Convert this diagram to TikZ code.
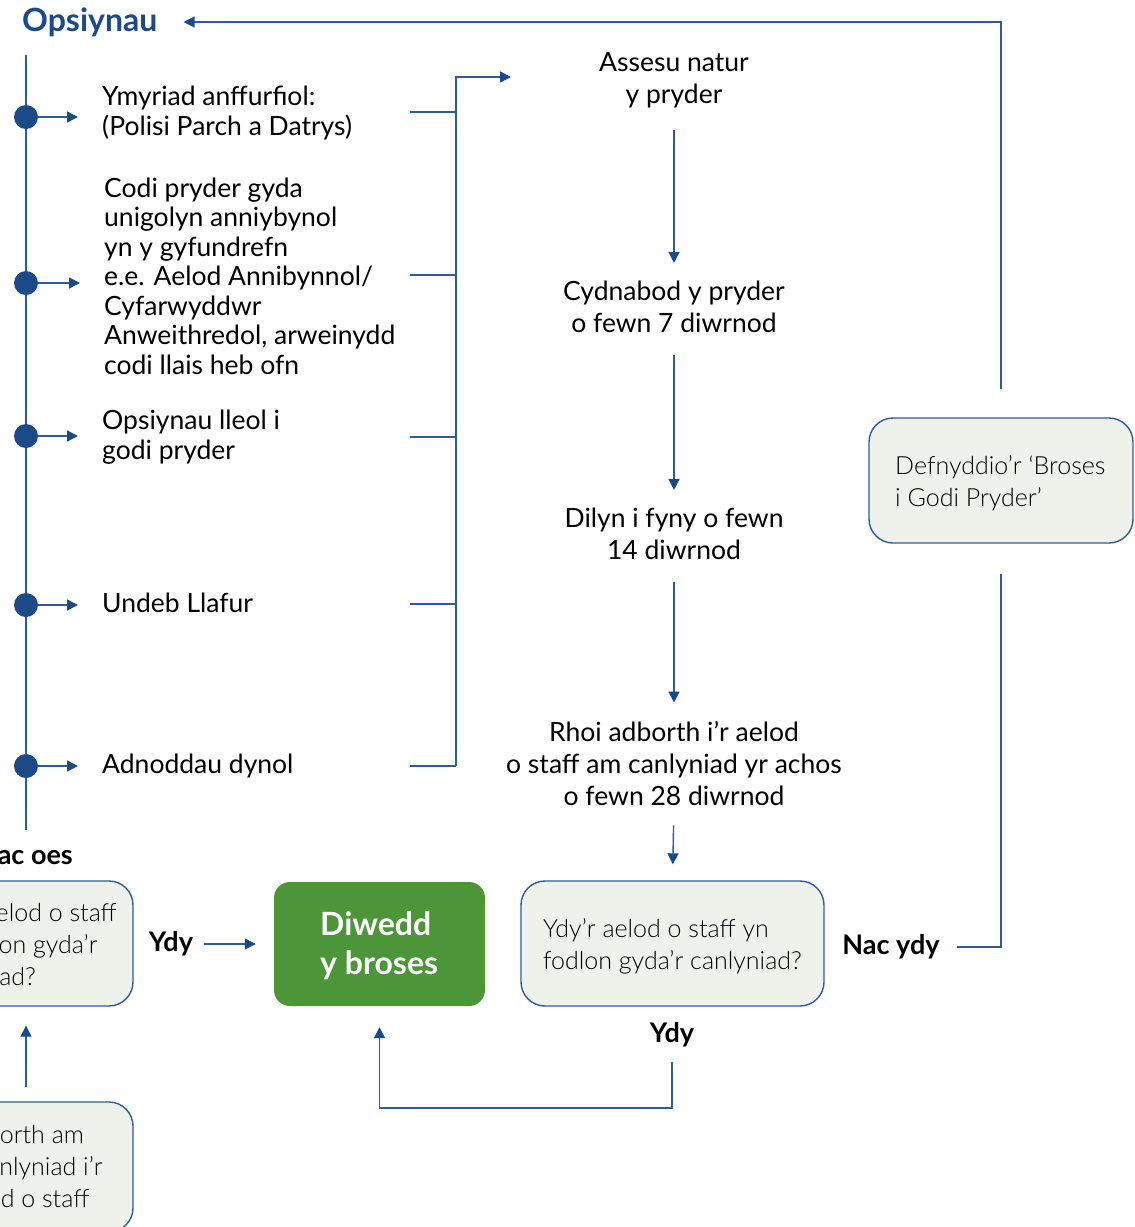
\documentclass[tikz,border=0pt]{standalone}
\usepackage{fontspec}
\setmainfont{Lato}
\IfFontExistsTF{Lato Light}{\newfontfamily\lightf{Lato Light}}{\newfontfamily\lightf{Lato}}
\usetikzlibrary{arrows.meta}
\definecolor{navy}{HTML}{1B4A87}
\definecolor{lineblue}{HTML}{2E5C99}
\definecolor{boxfill}{HTML}{EFF2EA}
\definecolor{okgreen}{HTML}{4C9639}
\tikzset{
  conn/.style={draw=lineblue, line width=1.4pt},
  arr/.style={conn, -{Triangle[length=11pt,width=11pt,color=navy]}},
  tx/.style={inner sep=0pt, font=\fontsize{26.5}{29.5}\selectfont, align=left},
  ctx/.style={inner sep=0pt, font=\fontsize{26.5}{32}\selectfont, align=center},
  rbox/.style={draw=lineblue, line width=1.4pt, fill=boxfill, rounded corners=24pt, inner sep=0pt},
  btx/.style={inner sep=0pt, font=\lightf\fontsize{25}{32}\selectfont, align=left},
  lab/.style={inner sep=0pt, font=\bfseries\fontsize{27}{29}\selectfont},
  dot/.style={circle, fill=navy, minimum size=24pt, inner sep=0pt},
}
\begin{document}
\begin{tikzpicture}[x=1pt,y=-1pt]
\useasboundingbox (0,0) rectangle (1135,1227);
\clip (0,0) rectangle (1135,1227);
\fill[white] (0,0) rectangle (1135,1227);

% title
\node[inner sep=0pt, anchor=west, text=navy, font=\bfseries\fontsize{32}{36}\selectfont] (title) at (22,22) {Opsiynau};

% spine
\coordinate (spTop) at (26,55);
\coordinate (spBot) at (26,830);
\draw[conn] (spTop) -- (spBot);

% left option texts
\node[tx, anchor=west] (t1) at (102,113) {Ymyriad anffurfiol:\\(Polisi Parch a Datrys)};
\node[tx, anchor=west] (t2) at (104,276) {Codi pryder gyda\\unigolyn anniybynol\\yn y gyfundrefn\\e.e. Aelod Annibynnol/\\Cyfarwyddwr\\Anweithredol, arweinydd\\codi llais heb ofn};
\node[tx, anchor=west] (t3) at (102,437) {Opsiynau lleol i\\godi pryder};
\node[tx, anchor=west] (t4) at (102,603) {Undeb Llafur};
\node[tx, anchor=west] (t5) at (102,766) {Adnoddau dynol};

% dots
\node[dot] (d1) at (26,117) {};
\node[dot] (d2) at (26,283) {};
\node[dot] (d3) at (26,436) {};
\node[dot] (d4) at (26,605) {};
\node[dot] (d5) at (26,766) {};
\foreach \i in {1,...,5}{
  \draw[arr, shorten >=24pt] (d\i.east) -- (d\i.east -| t\i.west);
}

% bracket
\coordinate (b1) at (410,112);
\coordinate (b2) at (410,275);
\coordinate (b3) at (410,437);
\coordinate (b4) at (410,604);
\coordinate (b5) at (410,766);
\coordinate (jtop) at (456,77);
\coordinate (jin) at (511,77);
\foreach \i in {1,...,5}{
  \draw[conn] (b\i) -- (b\i -| jtop);
}
\draw[arr] (b5 -| jtop) -- (jtop) -- (jin);

% centre column
\node[ctx] (c1) at (674,80) {Assesu natur\\y pryder};
\node[ctx] (c2) at (674,307) {Cydnabod y pryder\\o fewn 7 diwrnod};
\node[ctx] (c3) at (674,534) {Dilyn i fyny o fewn\\14 diwrnod};
\node[ctx] (c4) at (674,763) {Rhoi adborth i’r aelod\\o staff am canlyniad yr achos\\o fewn 28 diwrnod};

\draw[arr, shorten <=22pt, shorten >=18pt] (c1.south) -- (c2.north);
\draw[arr, shorten <=22pt, shorten >=18pt] (c2.south) -- (c3.north);
\draw[arr, shorten <=22pt, shorten >=18pt] (c3.south) -- (c4.north);

% question box
\node[rbox, minimum width=303pt, minimum height=125pt] (Q) at (672.5,943.5) {};
\node[btx, anchor=west] (Qt) at (543,946) {Ydy’r aelod o staff yn\\fodlon gyda’r canlyniad?};
\draw[arr, shorten <=20pt, shorten >=16pt] (c4.south) -- (Q.north);

% use process box
\node[rbox, minimum width=264pt, minimum height=125pt] (D) at (1001,480.5) {};
\node[btx, anchor=west] (Dt) at (895,483) {Defnyddio’r ‘Broses\\i Godi Pryder’};

% end box
\node[fill=okgreen, rounded corners=16pt, minimum width=211pt, minimum height=124pt, inner sep=0pt] (G) at (379.5,944) {};
\node[inner sep=0pt, anchor=west, align=left, text=white, font=\bfseries\fontsize{32}{39}\selectfont] (Gt) at (320,946) {Diwedd\\y broses};

% labels
\node[lab] (ydyR) at (672,1035) {Ydy};
\node[lab] (nacydy) at (891,947) {Nac ydy};
\node[lab] (ydyL) at (171,944) {Ydy};
\node[lab, anchor=east] (nacoes) at (73,855) {Nac oes};

% left boxes (cropped)
\coordinate (spx) at (26,0);
\node[rbox, minimum width=303pt, minimum height=125pt] (L1) at (-18.5,943.5) {};
\node[btx, anchor=east] (L1t) at (117,946) {Ydy’r aelod o staff\\yn fodlon gyda’r\\canlyniad?};
\node[rbox, minimum width=303pt, minimum height=130pt] (L2) at (-18.5,1167) {};
\node[btx, anchor=west] (L2t) at (-44,1166) {Adborth am\\y canlyniad i’r\\aelod o staff};
\draw[arr, shorten <=14pt, shorten >=19pt] (L2.north -| spx) -- (L1.south -| spx);

% connectors
\draw[arr, shorten <=11pt, shorten >=18pt] (ydyL.east) -- (G.west);
\draw[arr, shorten <=28pt, shorten >=26pt] (D.north) |- (title.east);
\draw[conn, shorten <=17pt, shorten >=30pt] (nacydy.east) -| (D.south);
\draw[arr, shorten <=14pt, shorten >=21pt] (ydyR.south) -- (ydyR.south |- 0,1108) -| (G.south);
\end{tikzpicture}
\end{document}
